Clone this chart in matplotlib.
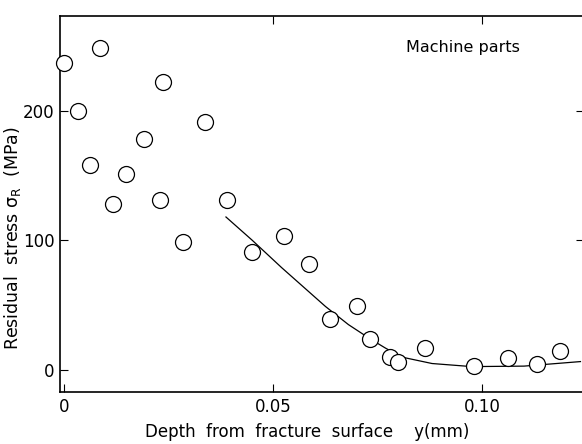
import numpy as np
import matplotlib
matplotlib.use("Agg")
from matplotlib import pyplot as plt

# measured points: depth y (mm), residual stress (MPa)
depth = [0.0, 0.0085, 0.0032, 0.0236, 0.0337, 0.019, 0.0062, 0.0147, 0.0117,
         0.023, 0.039, 0.0284, 0.0527, 0.0449, 0.0586, 0.070, 0.0637, 0.0732,
         0.078, 0.0798, 0.0863, 0.098, 0.1061, 0.1131, 0.1186]
stress = [237, 248, 200, 222, 191, 178, 158, 151, 128,
          131, 131, 99, 103, 91, 82, 49, 39, 24,
          10, 6, 17, 3, 9, 5, 15]

# fitted curve
curve_x = [0.0387, 0.045, 0.052, 0.0625, 0.068, 0.0732, 0.0768, 0.0807,
           0.088, 0.096, 0.100, 0.110, 0.1235]
curve_y = [118, 100, 79, 49, 35, 24, 17, 10, 5, 3, 2.7, 3, 6.5]

xticks = [0, 0.05, 0.10]
xticklabels = ['0', '0.05', '0.10']
yticks = [0, 100, 200]

fig = plt.figure(figsize=(5.82, 4.44), dpi=100)
ax = fig.add_axes([0.1031, 0.117, 0.9, 0.847])

ax.plot(curve_x, curve_y, color='black', lw=0.9, zorder=2)
ax.plot(depth, stress, 'o', ms=11.5, mfc='white', mec='black', mew=0.9,
        ls='none', zorder=3, clip_on=False)

ax.set_xlim(-0.001, 0.1243)
ax.set_ylim(-17, 273)

ax.set_xticks(xticks)
ax.set_xticklabels(xticklabels)
ax.set_yticks(yticks)
ax.tick_params(direction='in', length=6, width=0.8, labelsize=12, pad=4,
               top=False, right=False)

# top ticks at 0.05 and 0.10 only
top = ax.secondary_xaxis('top')
top.set_xticks([0.05, 0.10])
top.tick_params(direction='in', length=6, width=0.8, labeltop=False)
top.spines['top'].set_visible(False)

# right ticks at 100 and 200 only
right = ax.secondary_yaxis('right')
right.set_yticks([100, 200])
right.tick_params(direction='in', length=6, width=0.8, labelright=False)
right.spines['right'].set_visible(False)

for s in ['left', 'bottom', 'top']:
    ax.spines[s].set_linewidth(1.2)
ax.spines['right'].set_visible(False)

ax.set_xlabel('Depth  from  fracture  surface    y(mm)', fontsize=12)
ax.xaxis.set_label_coords(0.472, -0.082)
ax.set_ylabel(r'Residual  stress $\mathregular{\sigma_R}$  (MPa)', fontsize=12.5)
ax.yaxis.set_label_coords(-0.07, 0.41)

ax.text(0.66, 0.915, 'Machine parts', transform=ax.transAxes,
        fontsize=11.5, ha='left', va='center')

fig.savefig('out.png', dpi=100)
